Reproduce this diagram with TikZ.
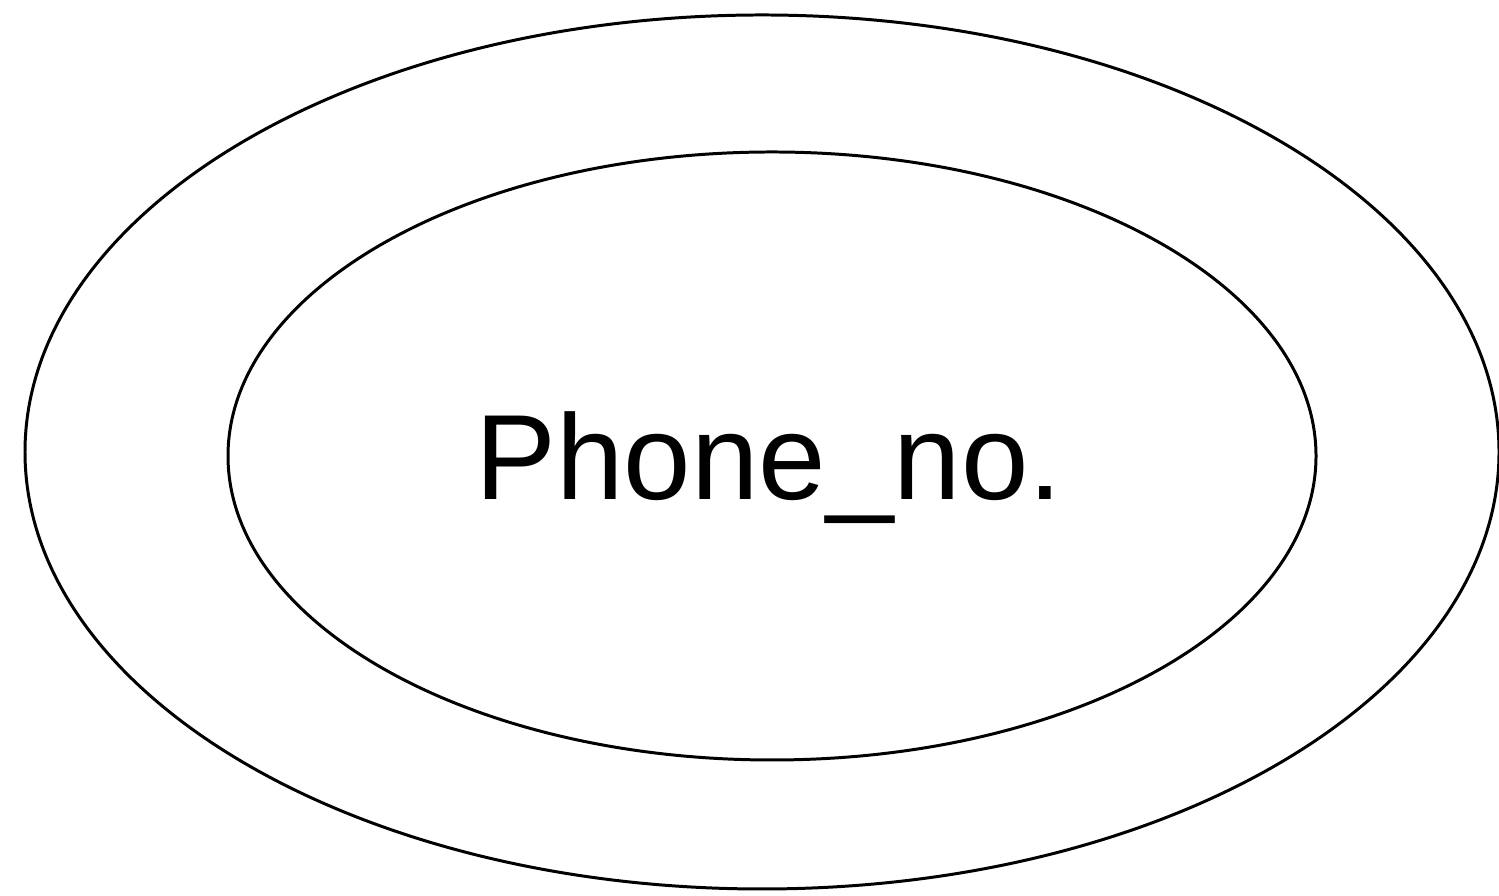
\documentclass[tikz,border=0pt]{standalone}
\usepackage{fontspec}
\setmainfont{Liberation Sans}
\usetikzlibrary{shapes.geometric}
\tikzset{
  ring/.style={draw=black, line width=0.85pt, ellipse, inner sep=0pt},
  label/.style={font=\fontsize{34.5}{40}\selectfont, inner sep=0pt, anchor=base}
}
\begin{document}
\begin{tikzpicture}
\useasboundingbox (0,0) rectangle (14.99,8.96);
\node[ring, minimum width=14.74cm, minimum height=8.74cm] (outer) at (7.62,4.44) {};
\node[ring, minimum width=10.88cm, minimum height=6.08cm] (inner) at (7.72,4.40) {};
\node[label] (txt) at (7.69,3.96) {Phone\_no.};
\end{tikzpicture}
\end{document}
